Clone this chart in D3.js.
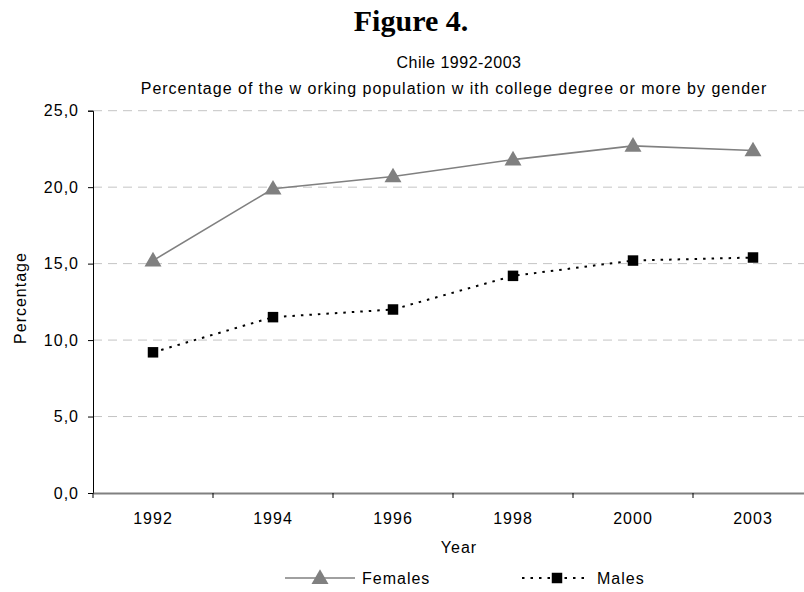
<!DOCTYPE html>
<html lang="en">
<head>
<meta charset="UTF-8">
<title>Figure 4</title>
<style>
    body { margin: 0; background: #fff; }
    svg { display: block; font-family: "Liberation Sans", Arial, sans-serif; }
    .lbl { font-size: 16px; letter-spacing: 1px; fill: #000; }
</style>
<script src="https://d3js.org/d3.v7.min.js"></script>
</head>
<body>
<svg id="chart" width="804" height="592"></svg>
<script>
    const years = ["1992", "1994", "1996", "1998", "2000", "2003"];
    const females = [15.2, 19.9, 20.7, 21.8, 22.7, 22.4];
    const males = [9.2, 11.5, 12.0, 14.2, 15.2, 15.4];
    const yTicks = [0, 5, 10, 15, 20, 25];

    const svg = d3.select("#chart");
    const plotLeft = 93, plotTop = 110.7, plotW = 720, plotH = 382.3;

    const x = d3.scaleBand().domain(years).range([plotLeft, plotLeft + plotW]);
    const y = d3.scaleLinear().domain([0, 25]).range([plotTop + plotH, plotTop]);
    const cx = d => x(d) + x.bandwidth() / 2;

    // titles
    svg.append("text")
        .attr("x", 411).attr("y", 31)
        .attr("text-anchor", "middle")
        .style("font-family", "'Liberation Serif', 'Times New Roman', serif")
        .style("font-weight", "bold")
        .style("font-size", "30px")
        .text("Figure 4.");

    svg.append("text").attr("class", "lbl")
        .attr("x", 459).attr("y", 68)
        .attr("text-anchor", "middle")
        .style("letter-spacing", "0.5px")
        .text("Chile 1992-2003");

    svg.append("text").attr("class", "lbl")
        .attr("x", 454).attr("y", 94)
        .attr("text-anchor", "middle")
        .text("Percentage of the w orking population w ith college degree or more by gender");

    // grid
    svg.append("g")
        .selectAll("line")
        .data(yTicks.filter(d => d > 0))
        .join("line")
        .attr("x1", plotLeft).attr("x2", plotLeft + plotW)
        .attr("y1", d => y(d)).attr("y2", d => y(d))
        .attr("stroke", "#c4c4c4")
        .attr("stroke-dasharray", "9,6");

    // y axis
    const yAxis = svg.append("g")
        .attr("transform", `translate(${plotLeft},0)`)
        .call(d3.axisLeft(y).tickValues(yTicks).tickSize(5).tickPadding(9)
            .tickFormat(d => d3.format(".1f")(d).replace(".", ",")));
    yAxis.select(".domain").attr("stroke", "#000");
    yAxis.selectAll("text").attr("class", "lbl").attr("font-family", null).attr("font-size", null);

    // x axis
    const xAxis = svg.append("g")
        .attr("transform", `translate(0,${plotTop + plotH})`)
        .call(d3.axisBottom(x).tickSize(0).tickPadding(20));
    xAxis.select(".domain").attr("stroke", "#808080").attr("stroke-width", 2);
    xAxis.selectAll("text").attr("class", "lbl").attr("font-family", null).attr("font-size", null);
    xAxis.selectAll(".sep")
        .data(years)
        .join("line")
        .attr("class", "sep")
        .attr("x1", d => x(d)).attr("x2", d => x(d))
        .attr("y1", 0).attr("y2", 5)
        .attr("stroke", "#000");

    // axis titles
    svg.append("text").attr("class", "lbl")
        .attr("transform", "translate(26,298) rotate(-90)")
        .attr("text-anchor", "middle")
        .text("Percentage");

    svg.append("text").attr("class", "lbl")
        .attr("x", 459).attr("y", 553)
        .attr("text-anchor", "middle")
        .text("Year");

    // series
    const line = d3.line().x((d, i) => cx(years[i])).y(d => y(d));
    const tri = d3.symbol().type(d3.symbolTriangle).size(125);
    const sq = d3.symbol().type(d3.symbolSquare).size(110);

    svg.append("path").datum(females)
        .attr("d", line)
        .attr("fill", "none")
        .attr("stroke", "#808080")
        .attr("stroke-width", 1.6);

    svg.append("path").datum(males)
        .attr("d", line)
        .attr("fill", "none")
        .attr("stroke", "#000")
        .attr("stroke-width", 2)
        .attr("stroke-dasharray", "2.5,6");

    svg.append("g").selectAll("path")
        .data(females)
        .join("path")
        .attr("d", tri)
        .attr("transform", (d, i) => `translate(${cx(years[i])},${y(d) + 1})`)
        .attr("fill", "#808080");

    svg.append("g").selectAll("path")
        .data(males)
        .join("path")
        .attr("d", sq)
        .attr("transform", (d, i) => `translate(${cx(years[i])},${y(d)})`)
        .attr("fill", "#000");

    // legend
    const lg = svg.append("g");
    lg.append("line").attr("x1", 285).attr("x2", 355).attr("y1", 578).attr("y2", 578)
        .attr("stroke", "#808080").attr("stroke-width", 1.6);
    lg.append("path").attr("d", tri).attr("transform", "translate(320,579)").attr("fill", "#808080");
    lg.append("text").attr("class", "lbl").attr("x", 362).attr("y", 584).text("Females");

    lg.append("line").attr("x1", 522).attr("x2", 590).attr("y1", 578).attr("y2", 578)
        .attr("stroke", "#000").attr("stroke-width", 2).attr("stroke-dasharray", "2.5,6");
    lg.append("path").attr("d", sq).attr("transform", "translate(557,578)").attr("fill", "#000");
    lg.append("text").attr("class", "lbl").attr("x", 597).attr("y", 584).text("Males");
</script>
</body>
</html>
